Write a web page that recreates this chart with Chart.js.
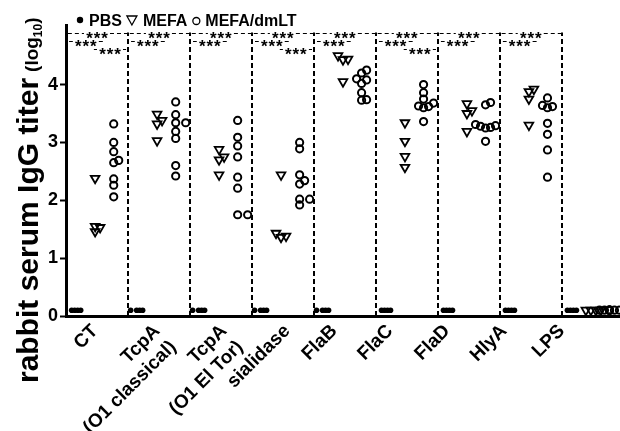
<!DOCTYPE html>
<html>
<head>
<meta charset="utf-8">
<script src="https://cdn.jsdelivr.net/npm/chart.js@4/dist/chart.umd.min.js"></script>
<style>
html, body { margin: 0; padding: 0; background: #fff; overflow: hidden; }
#wrap { width: 620px; height: 431px; }
#graph1 { display: block; }
</style>
</head>
<body>
<div id="wrap"><canvas id="graph1"></canvas></div>
<script>
Chart.defaults.font.family = '"Liberation Sans", Arial, sans-serif';
Chart.defaults.color = '#000';

// categories (x tick labels)
var categories = [['CT'], ['TcpA', '(O1 classical)'], ['TcpA', '(O1 El Tor)'], ['sialidase'],
  ['FlaB'], ['FlaC'], ['FlaD'], ['HlyA'], ['LPS']];
var yTicks = [0, 1, 2, 3, 4];

// log10 titers per rabbit
var pbs = [
  [0.1, 0.1, 0.1, 0.1], [0.1, 0.1, 0.1, 0.1], [0.1, 0.1, 0.1, 0.1],
  [0.1, 0.1, 0.1, 0.1], [0.1, 0.1, 0.1, 0.1], [0.1, 0.1, 0.1, 0.1],
  [0.1, 0.1, 0.1, 0.1], [0.1, 0.1, 0.1, 0.1], [0.1, 0.1, 0.1, 0.1]
];
var mefa = [
  [2.38, 1.55, 1.53, 1.46],
  [3.49, 3.38, 3.32, 3.03],
  [2.88, 2.75, 2.70, 2.44],
  [2.44, 1.43, 1.38, 1.36],
  [4.50, 4.44, 4.43, 4.05],
  [3.34, 3.02, 2.76, 2.57],
  [3.67, 3.55, 3.50, 3.19],
  [3.92, 3.88, 3.75, 3.30],
  [0.1, 0.1, 0.1, 0.1]
];
var mefaDmlt = [
  [3.32, 3.00, 2.84, 2.69, 2.65, 2.37, 2.26, 2.06],
  [3.70, 3.48, 3.34, 3.34, 3.19, 3.07, 2.60, 2.42],
  [3.38, 3.09, 2.94, 2.75, 2.40, 2.21, 1.75, 1.75],
  [3.00, 2.89, 2.44, 2.34, 2.28, 2.02, 2.02, 1.92],
  [4.25, 4.20, 4.10, 4.08, 4.02, 3.86, 3.74, 3.73],
  [4.00, 3.86, 3.75, 3.68, 3.63, 3.62, 3.60, 3.36],
  [3.69, 3.65, 3.31, 3.29, 3.28, 3.26, 3.25, 3.02],
  [3.77, 3.64, 3.62, 3.60, 3.33, 3.14, 2.87, 2.40],
  [0.1, 0.1, 0.1, 0.1, 0.1, 0.1, 0.1, 0.1]
];

// significance marks (***) per category
var sigPbsVsDmlt = [true, true, true, true, true, true, true, true, false];
var sigPbsVsMefa = [true, true, true, true, true, true, true, true, false];
var sigMefaVsDmlt = [true, false, false, true, false, true, false, false, false];

// layout
var pxX = 62, pxY = 57.8;
var labelNudge = [-0.03, -0.03, 0.05, 0.07, -0.17, -0.27, -0.35, -0.43, -0.5];

// simple beeswarm so overlapping dots get pushed sideways
function swarm(vals, base, minDist, step) {
  var placed = [];
  vals.slice().sort(function (a, b) { return a - b; }).forEach(function (v) {
    var pick = null, bestX = base, bestGap = -1;
    [0, 1, -1, 2, -2].forEach(function (k) {
      if (pick !== null) return;
      var x = base + k * step / pxX;
      var gap = Infinity;
      placed.forEach(function (p) {
        gap = Math.min(gap, Math.hypot((p.x - x) * pxX, (p.y - v) * pxY));
      });
      if (gap >= minDist) pick = x;
      else if (gap > bestGap) { bestGap = gap; bestX = x; }
    });
    placed.push({ x: pick !== null ? pick : bestX, y: v });
  });
  return placed;
}

function groupPoints(groups, offset, minDist, step) {
  var pts = [];
  groups.forEach(function (vals, i) {
    pts = pts.concat(swarm(vals, i + offset, minDist, step));
  });
  return pts;
}

var decor = {
  id: 'decor',
  beforeDatasetsDraw: function (chart) {
    var ctx = chart.ctx, xs = chart.scales.x, ys = chart.scales.y;
    ctx.save();
    ctx.strokeStyle = '#000';
    ctx.fillStyle = '#000';
    // vertical separators
    ctx.lineWidth = 2;
    ctx.setLineDash([5, 3]);
    for (var k = 0; k < categories.length - 1; k++) {
      var px = Math.round(xs.getPixelForValue(k + 0.5));
      ctx.beginPath();
      ctx.moveTo(px, ys.getPixelForValue(0));
      ctx.lineTo(px, ys.getPixelForValue(4.9));
      ctx.stroke();
    }
    // significance lines
    function sigLine(x0, x1, xm, yv) {
      var py = Math.round(ys.getPixelForValue(yv)) + 0.5;
      var a = xs.getPixelForValue(x0), b = xs.getPixelForValue(x1), m = xs.getPixelForValue(xm);
      ctx.lineWidth = 1;
      ctx.setLineDash([4, 3]);
      ctx.beginPath();
      ctx.moveTo(a, py); ctx.lineTo(m - 13, py);
      ctx.moveTo(m + 13, py); ctx.lineTo(b, py);
      ctx.stroke();
      ctx.setLineDash([]);
      ctx.font = 'bold 17px "Liberation Sans", Arial, sans-serif';
      ctx.textAlign = 'center';
      ctx.textBaseline = 'alphabetic';
      for (var s = -1; s <= 1; s++) ctx.fillText('*', m + s * 7.5, py + 10);
    }
    for (var i = 0; i < categories.length; i++) {
      if (sigPbsVsDmlt[i]) sigLine(i - 0.47, i + 0.5, i, 4.9);
      if (sigPbsVsMefa[i]) sigLine(i - 0.45, i + 0.1, i - 0.18, 4.75);
      if (sigMefaVsDmlt[i]) sigLine(i - 0.05, i + 0.47, i + 0.21, 4.62);
    }
    ctx.restore();
  },
  afterDraw: function (chart) {
    var ctx = chart.ctx;
    ctx.save();
    ctx.fillStyle = '#000';
    ctx.strokeStyle = '#000';
    // y title
    ctx.translate(38, 383);
    ctx.rotate(-Math.PI / 2);
    ctx.textAlign = 'left';
    ctx.textBaseline = 'alphabetic';
    ctx.font = 'bold 30px "Liberation Sans", Arial, sans-serif';
    var t = 'rabbit serum IgG titer';
    ctx.fillText(t, 0, 0);
    var x = ctx.measureText(t).width + 6;
    ctx.font = 'bold 19px "Liberation Sans", Arial, sans-serif';
    ctx.fillText('(log', x, 0);
    x += ctx.measureText('(log').width;
    ctx.font = 'bold 12px "Liberation Sans", Arial, sans-serif';
    ctx.fillText('10', x, 4);
    x += ctx.measureText('10').width;
    ctx.font = 'bold 19px "Liberation Sans", Arial, sans-serif';
    ctx.fillText(')', x, 0);
    ctx.restore();

    // legend
    ctx.save();
    ctx.fillStyle = '#000';
    ctx.strokeStyle = '#000';
    ctx.font = 'bold 16px "Liberation Sans", Arial, sans-serif';
    ctx.textBaseline = 'alphabetic';
    var ly = 20, lx = 80;
    ctx.beginPath(); ctx.arc(lx, ly, 3.2, 0, Math.PI * 2); ctx.fill();
    lx += 9;
    ctx.fillText('PBS', lx, ly + 6);
    lx += ctx.measureText('PBS').width + 10;
    ctx.lineWidth = 1.3;
    ctx.beginPath();
    ctx.moveTo(lx - 5, ly - 4); ctx.lineTo(lx + 5, ly - 4); ctx.lineTo(lx, ly + 5); ctx.closePath();
    ctx.stroke();
    lx += 11;
    ctx.fillText('MEFA', lx, ly + 6);
    lx += ctx.measureText('MEFA').width + 9;
    ctx.beginPath(); ctx.arc(lx, ly + 1, 3.5, 0, Math.PI * 2); ctx.stroke();
    lx += 9;
    ctx.fillText('MEFA/dmLT', lx, ly + 6);
    ctx.restore();
  }
};

var context = document.getElementById('graph1').getContext('2d');
var chart = new Chart(context, {
  type: 'scatter',
  data: {
    datasets: [{
      label: 'PBS',
      data: groupPoints(pbs, -0.36, 3, 3),
      pointStyle: 'circle',
      pointRadius: 2.8,
      pointBorderWidth: 0,
      pointBackgroundColor: '#000',
      pointBorderColor: '#000'
    }, {
      label: 'MEFA',
      data: groupPoints(mefa, -0.03, 5, 5),
      pointStyle: 'triangle',
      pointRotation: 180,
      pointRadius: 5,
      pointBorderWidth: 1.8,
      pointBackgroundColor: 'rgba(255,255,255,0)',
      pointBorderColor: '#000'
    }, {
      label: 'MEFA/dmLT',
      data: groupPoints(mefaDmlt, 0.27, 5, 5),
      pointStyle: 'circle',
      pointRadius: 3.6,
      pointBorderWidth: 2,
      pointBackgroundColor: 'rgba(255,255,255,0)',
      pointBorderColor: '#000'
    }]
  },
  options: {
    responsive: true,
    maintainAspectRatio: false,
    animation: false,
    events: [],
    layout: { autoPadding: false, padding: { top: 25, right: 0, bottom: 0, left: 0 } },
    plugins: { legend: { display: false }, tooltip: { enabled: false } },
    scales: {
      x: {
        type: 'linear',
        min: -0.5,
        max: 8.44,
        afterBuildTicks: function (scale) {
          scale.ticks = categories.map(function (c, i) { return { value: i + labelNudge[i] }; });
        },
        afterFit: function (scale) {
          scale.height = 115;
          scale.paddingLeft = 0;
          scale.paddingRight = 0;
        },
        grid: { display: false },
        border: { display: true, color: '#000', width: 3 },
        ticks: {
          autoSkip: false,
          minRotation: 45,
          maxRotation: 45,
          padding: -4,
          font: { size: 19, weight: 'bold' },
          callback: function (value, index) { return categories[index]; }
        }
      },
      y: {
        min: 0,
        max: 5.03,
        afterBuildTicks: function (scale) {
          scale.ticks = yTicks.map(function (v) { return { value: v }; });
        },
        afterFit: function (scale) { scale.width = 66; },
        grid: { drawOnChartArea: false, drawTicks: true, tickLength: 6, tickWidth: 2, tickColor: '#000' },
        border: { display: true, color: '#000', width: 3 },
        ticks: {
          padding: 2,
          font: { size: 18, weight: 'bold' },
          callback: function (value) { return value; }
        }
      }
    }
  },
  plugins: [decor]
});
</script>
</body>
</html>
